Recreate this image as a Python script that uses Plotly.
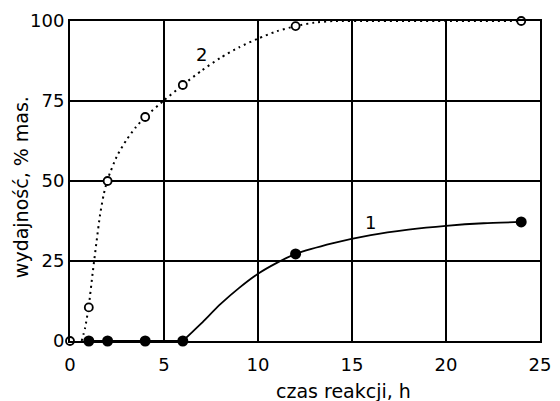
import plotly.graph_objects as go

# measured points
t_pts = [0, 1, 2, 4, 6, 12, 24]
y2_pts = [0, 10.5, 50, 70, 80, 98.4, 100]
t1_pts = [1, 2, 4, 6, 12, 24]
y1_pts = [0, 0, 0, 0, 27.2, 37.2]

# fitted curves
c2_x = [0.62, 0.8, 1.0, 1.2, 1.4, 1.6, 1.8, 2.0, 2.5, 3.0, 3.5, 4.0, 5.0, 6.0, 7.0, 8.0, 9.0, 10.0, 11.0, 12.0, 13.0, 14.0, 16.0, 20.0, 24.0]
c2_y = [0, 4, 11, 21, 30.5, 39.5, 46, 50.5, 57.8, 62.8, 66.8, 70, 75.2, 80, 84.5, 88.5, 91.8, 94.5, 96.8, 98.4, 99.5, 100, 100, 100, 100]
c1a_x = [1, 6]
c1a_y = [0, 0]
c1_x = [6, 6.5, 7, 8, 9, 10, 11, 12, 14, 16, 18, 20, 22, 24]
c1_y = [0, 2.8, 5.6, 11.5, 16.6, 21.0, 24.4, 27.2, 30.6, 33.1, 34.8, 36.0, 36.8, 37.2]

x_ticks = [0, 5, 10, 15, 20, 25]
y_ticks = [0, 25, 50, 75, 100]

FONT = "DejaVu Sans"
W, H = 560, 401
L, R, T, B = 70, 9, 21, 60
pw, ph = W - L - R, H - T - B

fig = go.Figure()
fig.add_trace(go.Scatter(x=c2_x, y=c2_y, mode="lines",
                         line=dict(color="black", width=2, dash="2px,4px", shape="spline", smoothing=0.6),
                         cliponaxis=False, hoverinfo="skip"))
fig.add_trace(go.Scatter(x=c1a_x, y=c1a_y, mode="lines", line=dict(color="black", width=2),
                         cliponaxis=False, hoverinfo="skip"))
fig.add_trace(go.Scatter(x=c1_x, y=c1_y, mode="lines",
                         line=dict(color="black", width=1.8, shape="spline", smoothing=0.6),
                         cliponaxis=False, hoverinfo="skip"))
fig.add_trace(go.Scatter(x=t_pts, y=y2_pts, mode="markers",
                         marker=dict(symbol="circle", size=8, color="white", line=dict(color="black", width=1.8)),
                         cliponaxis=False))
fig.add_trace(go.Scatter(x=t1_pts, y=y1_pts, mode="markers",
                         marker=dict(symbol="circle", size=11, color="black"),
                         cliponaxis=False))

axis_common = dict(showgrid=True, gridcolor="black", gridwidth=1.6, showline=True, linecolor="black", linewidth=2,
                   mirror=True, zeroline=False, ticks="", ticklabeloverflow="allow",
                   tickfont=dict(family=FONT, size=18, color="black"))
fig.update_xaxes(range=[0, 25], tickvals=x_ticks, ticktext=[str(v) for v in x_ticks], ticklabelstandoff=6,
                 **axis_common)
fig.update_yaxes(range=[0, 100], tickvals=y_ticks, ticktext=[str(v) for v in y_ticks], ticklabelstandoff=0,
                 **axis_common)

fig.add_annotation(x=(350 - L) / pw, y=(H - B - 391) / ph, xref="paper", yref="paper", text="czas reakcji, h",
                   showarrow=False, xanchor="center", yanchor="middle",
                   font=dict(family=FONT, size=19, color="black"))
fig.add_annotation(x=(20 - L) / pw, y=(H - B - 187) / ph, xref="paper", yref="paper", text="wydajność, % mas.",
                   textangle=-90, showarrow=False, xanchor="center", yanchor="middle",
                   font=dict(family=FONT, size=19, color="black"))
fig.add_annotation(x=7.0, y=89.5, text="2", showarrow=False, font=dict(family=FONT, size=18, color="black"))
fig.add_annotation(x=16.0, y=37, text="1", showarrow=False, font=dict(family=FONT, size=18, color="black"))

fig.update_layout(width=W, height=H, margin=dict(l=L, r=R, t=T, b=B),
                  paper_bgcolor="white", plot_bgcolor="white", showlegend=False)

fig.write_html("out.html")
